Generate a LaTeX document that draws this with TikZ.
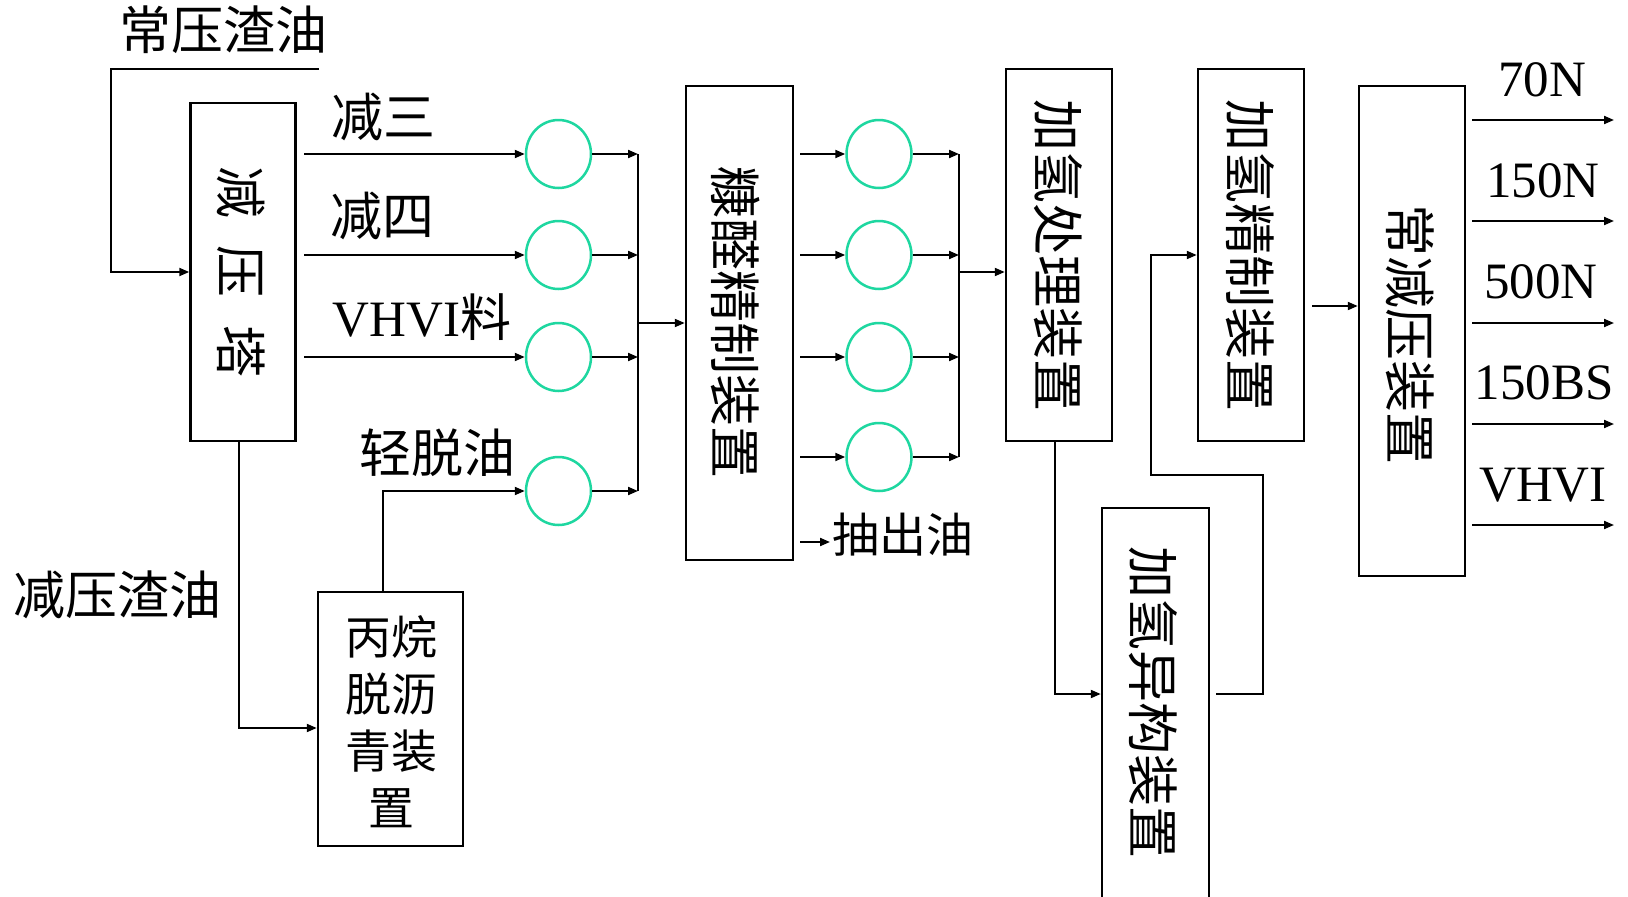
\documentclass[tikz,border=0pt]{standalone}
\usepackage{fontspec}
\setmainfont{Liberation Serif}
\newfontfamily\cjk{Noto Sans CJK SC}
\usetikzlibrary{arrows.meta,shapes.geometric,calc}
\definecolor{ringc}{RGB}{30,215,160}
\begin{document}
\begin{tikzpicture}[x=1pt,y=-1pt,
  box/.style={draw,line width=2.5pt,inner sep=0pt},
  ring/.style={draw=ringc,line width=2.5pt,ellipse,minimum width=65pt,minimum height=68pt,inner sep=0pt},
  flow/.style={line width=2pt,-{Triangle[length=10pt,width=8pt]}},
  pipe/.style={line width=2pt},
  cjklab/.style={font=\cjk\fontsize{52}{60}\selectfont,inner sep=0pt},
  latlab/.style={font=\fontsize{51}{60}\selectfont,inner sep=0pt},
  vtext/.style={font=\cjk\fontsize{52}{60}\selectfont,inner sep=0pt,rotate=-90},
]
\fill[white] (0,0) rectangle (1628,897);
\useasboundingbox (0,0) rectangle (1628,897);

% boxes
\node[box,minimum width=105pt,minimum height=338pt] (tower) at (243,272) {};
\node[vtext] (towert) at (241,272) {减\hspace{28pt}压\hspace{28pt}塔};
\node[box,minimum width=145pt,minimum height=254pt] (propane) at (390.5,719) {};
\node[align=center,font=\cjk\fontsize{46}{57}\selectfont,inner sep=0pt] (propt) at (391,722) {丙烷\\脱沥\\青装\\置};
\node[box,minimum width=107pt,minimum height=474pt] (ff) at (739.5,323) {};
\node[vtext] (fft) at (736,322) {糠醛精制装置};
\node[box,minimum width=106pt,minimum height=372pt] (ht) at (1059,255) {};
\node[vtext] (htt) at (1058,255) {加氢处理装置};
\node[box,minimum width=106pt,minimum height=372pt] (hf) at (1251,255) {};
\node[vtext] (hft) at (1250,255) {加氢精制装置};
\node[box,minimum width=106pt,minimum height=490pt] (av) at (1412,331) {};
\node[vtext] (avt) at (1410,334) {常减压装置};
\node[box,minimum width=107pt,minimum height=402pt] (iso) at (1155.5,709) {};
\node[vtext] (isot) at (1153,702) {加氢异构装置};

% circles
\node[ring] (c1) at (558.5,154) {};
\node[ring] (c2) at (558.5,255) {};
\node[ring] (c3) at (558.5,357) {};
\node[ring] (c5) at (558.5,491) {};
\node[ring] (d1) at (879,154) {};
\node[ring] (d2) at (879,255) {};
\node[ring] (d3) at (879,357) {};
\node[ring] (d4) at (879,457) {};

% coordinates
\coordinate (atmfeed) at (319,69);
\coordinate (b1) at (638,154);
\coordinate (b2) at (638,255);
\coordinate (b3) at (638,357);
\coordinate (b5) at (638,491);
\coordinate (bm) at (638,323);
\coordinate (e1) at (959,154);
\coordinate (e2) at (959,255);
\coordinate (e3) at (959,357);
\coordinate (e4) at (959,457);
\coordinate (em) at (959,272);
\coordinate (ex) at (830,542);
\coordinate (o1) at (1614,120);
\coordinate (o2) at (1614,221);
\coordinate (o3) at (1614,323);
\coordinate (o4) at (1614,424);
\coordinate (o5) at (1614,525);

% labels
\node[cjklab] (l0) at (223,30) {常压渣油};
\node[cjklab] (l1) at (383,117) {减三};
\node[cjklab] (l2) at (382,216) {减四};
\node[latlab] (l3) at (422,317) {VHVI{\cjk 料}};
\node[cjklab] (l4) at (437,453) {轻脱油};
\node[cjklab] (l5) at (117,595) {减压渣油};
\node[cjklab,font=\cjk\fontsize{47}{55}\selectfont] (l6) at (903,535) {抽出油};
\node[latlab] (p1) at (1542,80) {70N};
\node[latlab] (p2) at (1543,181) {150N};
\node[latlab] (p3) at (1541,282) {500N};
\node[latlab] (p4) at (1544,383) {150BS};
\node[latlab] (p5) at (1543,485) {VHVI};

% connectors
\draw[flow] (atmfeed) -- (111,69) |- (tower.west);
\draw[flow] ($(tower.east|-c1)+(7.5,0)$) -- (c1);
\draw[flow] ($(tower.east|-c2)+(7.5,0)$) -- (c2);
\draw[flow] ($(tower.east|-c3)+(7.5,0)$) -- (c3);
\draw[flow] ($(tower.south)+(-4,0)$) |- ($(propane.west)+(0,9)$);
\draw[flow] ($(propane.north)+(-7.5,0)$) |- (c5);
\draw[flow] (c1) -- (b1);
\draw[flow] (c2) -- (b2);
\draw[flow] (c3) -- (b3);
\draw[flow] (c5) -- (b5);
\draw[pipe] (b1) -- (b5);
\draw[flow] (bm) -- (ff.west);

\draw[flow] ($(ff.east|-d1)+(6,0)$) -- (d1);
\draw[flow] ($(ff.east|-d2)+(6,0)$) -- (d2);
\draw[flow] ($(ff.east|-d3)+(6,0)$) -- (d3);
\draw[flow] ($(ff.east|-d4)+(6,0)$) -- (d4);
\draw[flow] ($(ff.east|-ex)+(6,0)$) -- (ex);
\draw[flow] (d1) -- (e1);
\draw[flow] (d2) -- (e2);
\draw[flow] (d3) -- (e3);
\draw[flow] (d4) -- (e4);
\draw[pipe] (e1) -- (e4);
\draw[flow] (em) -- (ht.west|-em);

\draw[flow] ($(ht.south)+(-4,0)$) |- ($(iso.west)+(0,-15)$);
\draw[flow] ($(iso.east)+(6,-15)$) -- (1263,694) -- (1263,475) -- (1151,475) |- (hf.west);
\draw[flow] ($(hf.east)+(7,51)$) -- ($(av.west)+(0,-25)$);

\draw[flow] ($(av.east|-o1)+(6,0)$) -- (o1);
\draw[flow] ($(av.east|-o2)+(6,0)$) -- (o2);
\draw[flow] ($(av.east|-o3)+(6,0)$) -- (o3);
\draw[flow] ($(av.east|-o4)+(6,0)$) -- (o4);
\draw[flow] ($(av.east|-o5)+(6,0)$) -- (o5);
\end{tikzpicture}
\end{document}
